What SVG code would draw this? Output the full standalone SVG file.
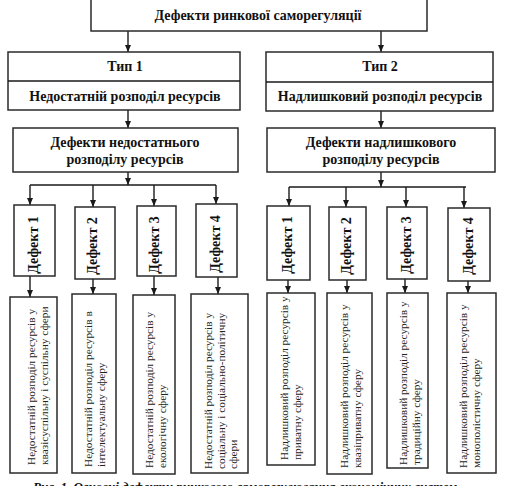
<svg xmlns="http://www.w3.org/2000/svg" width="505" height="486" viewBox="0 0 505 486">
<style>
.box{fill:#fff;stroke:#2a2a2a;stroke-width:1.5}
.ln{fill:none;stroke:#1a1a1a;stroke-width:1.4}
.arr{marker-end:url(#ah)}
.h{font-family:"Liberation Serif","Times New Roman",serif;font-weight:bold;font-size:14px;fill:#111;text-anchor:middle}
.d{font-family:"Liberation Serif","Times New Roman",serif;font-weight:bold;font-size:14px;fill:#111;text-anchor:middle}
.s{font-family:"Liberation Serif","Times New Roman",serif;font-size:11.3px;fill:#222}
.cap{font-family:"Liberation Serif","Times New Roman",serif;font-weight:bold;font-style:italic;font-size:13px;fill:#111}
</style>
<defs>
<marker id="ah" markerUnits="userSpaceOnUse" markerWidth="7" markerHeight="6" refX="7" refY="3" orient="auto">
<path d="M0,0 L7,3 L0,6 z" fill="#1a1a1a"/>
</marker>
</defs>
<rect width="505" height="486" fill="#fff"/>

<g id="connectors">
<path class="ln arr" d="M128,31 V52"/>
<path class="ln arr" d="M381,31 V52"/>
<path class="ln arr" d="M128,110 V128"/>
<path class="ln arr" d="M381,111 V128"/>
<path class="ln arr" d="M128,172 V185"/>
<path class="ln" d="M30,185 H216"/>
<path class="ln arr" d="M30,185 V205"/>
<path class="ln arr" d="M93,185 V207"/>
<path class="ln arr" d="M154,185 V206"/>
<path class="ln arr" d="M216,185 V204"/>
<path class="ln arr" d="M381,172 V187"/>
<path class="ln" d="M289,187 H466"/>
<path class="ln arr" d="M289,187 V206"/>
<path class="ln arr" d="M346,187 V207"/>
<path class="ln arr" d="M406,187 V207"/>
<path class="ln arr" d="M464,187 V208"/>
<path class="ln arr" d="M30,276 V297"/>
<path class="ln arr" d="M93,279 V294"/>
<path class="ln arr" d="M154,276 V295"/>
<path class="ln arr" d="M218,277 V294"/>
<path class="ln arr" d="M288,280 V293"/>
<path class="ln arr" d="M347,280 V293"/>
<path class="ln arr" d="M405,279 V293"/>
<path class="ln arr" d="M468,281 V293"/>
</g>

<g id="root">
<rect class="box" x="91" y="-2" width="336" height="33"/>
<text class="h" x="258" y="20">Дефекти ринкової саморегуляції</text>
</g>

<g id="type1">
<rect class="box" x="8" y="52" width="232" height="58"/>
<path class="ln" d="M8,81 H240"/>
<text class="h" x="125" y="71">Тип 1</text>
<text class="h" x="125" y="101">Недостатній розподіл ресурсів</text>
</g>

<g id="type2">
<rect class="box" x="266" y="52" width="227" height="59"/>
<path class="ln" d="M266,82 H493"/>
<text class="h" x="380" y="71">Тип 2</text>
<text class="h" x="380" y="101">Надлишковий розподіл ресурсів</text>
</g>

<g id="defects-insufficient">
<rect class="box" x="13" y="128" width="225" height="44"/>
<text class="h" x="125" y="147">Дефекти недостатнього</text>
<text class="h" x="125" y="164">розподілу ресурсів</text>
</g>

<g id="defects-excess">
<rect class="box" x="267" y="128" width="228" height="44"/>
<text class="h" x="381" y="147">Дефекти надлишкового</text>
<text class="h" x="381" y="164">розподілу ресурсів</text>
</g>

<g id="ld1"><rect class="box" x="14" y="205" width="41" height="71"/><text class="d" transform="translate(38,245) rotate(-90)">Дефект 1</text></g>
<g id="ld2"><rect class="box" x="75" y="207" width="40" height="72"/><text class="d" transform="translate(97,246) rotate(-90)">Дефект 2</text></g>
<g id="ld3"><rect class="box" x="137" y="206" width="39" height="70"/><text class="d" transform="translate(159,245) rotate(-90)">Дефект 3</text></g>
<g id="ld4"><rect class="box" x="196" y="204" width="41" height="73"/><text class="d" transform="translate(220,244) rotate(-90)">Дефект 4</text></g>

<g id="rd1"><rect class="box" x="267" y="206" width="43" height="74"/><text class="d" transform="translate(292,245) rotate(-90)">Дефект 1</text></g>
<g id="rd2"><rect class="box" x="329" y="207" width="37" height="73"/><text class="d" transform="translate(351,246) rotate(-90)">Дефект 2</text></g>
<g id="rd3"><rect class="box" x="387" y="207" width="40" height="72"/><text class="d" transform="translate(411,245) rotate(-90)">Дефект 3</text></g>
<g id="rd4"><rect class="box" x="448" y="208" width="42" height="73"/><text class="d" transform="translate(473,246) rotate(-90)">Дефект 4</text></g>

<g id="lb1"><rect class="box" x="10" y="297" width="47" height="176"/>
<text class="s" transform="translate(35,465) rotate(-90)"><tspan x="0" y="0">Недостатній розподіл ресурсів у</tspan><tspan x="0" y="12.5">квазісуспільну і суспільну сфери</tspan></text></g>
<g id="lb2"><rect class="box" x="72" y="294" width="44" height="179"/>
<text class="s" transform="translate(92,467) rotate(-90)"><tspan x="0" y="0">Недостатній розподіл ресурсів в</tspan><tspan x="0" y="12.5">інтелектуальну сферу</tspan></text></g>
<g id="lb3"><rect class="box" x="133" y="295" width="42" height="179"/>
<text class="s" transform="translate(153,468) rotate(-90)"><tspan x="0" y="0">Недостатній розподіл ресурсів у</tspan><tspan x="0" y="12.5">екологічну сферу</tspan></text></g>
<g id="lb4"><rect class="box" x="191" y="294" width="57" height="179"/>
<text class="s" transform="translate(212,469) rotate(-90)"><tspan x="0" y="0">Недостатній розподіл ресурсів у</tspan><tspan x="0" y="12.5">соціальну і соціально-політичну</tspan><tspan x="0" y="25">сфери</tspan></text></g>

<g id="rb1"><rect class="box" x="267" y="293" width="48" height="172"/>
<text class="s" transform="translate(288,460) rotate(-90)"><tspan x="0" y="0">Надлишковий розподіл ресурсів у</tspan><tspan x="0" y="12.5">приватну сферу</tspan></text></g>
<g id="rb2"><rect class="box" x="327" y="293" width="45" height="181"/>
<text class="s" transform="translate(348,468) rotate(-90)"><tspan x="0" y="0">Надлишковий розподіл ресурсів у</tspan><tspan x="0" y="12.5">квазіприватну сферу</tspan></text></g>
<g id="rb3"><rect class="box" x="387" y="293" width="41" height="175"/>
<text class="s" transform="translate(407,465) rotate(-90)"><tspan x="0" y="0">Надлишковий розподіл ресурсів у</tspan><tspan x="0" y="12.5">традиційну сферу</tspan></text></g>
<g id="rb4"><rect class="box" x="447" y="293" width="49" height="180"/>
<text class="s" transform="translate(467,468) rotate(-90)"><tspan x="0" y="0">Надлишковий розподіл ресурсів у</tspan><tspan x="0" y="12.5">монополістичну сферу</tspan></text></g>

<text class="cap" x="33" y="491">Рис. 1. Основні дефекти ринкового саморегулювання економічних систем</text>
</svg>
